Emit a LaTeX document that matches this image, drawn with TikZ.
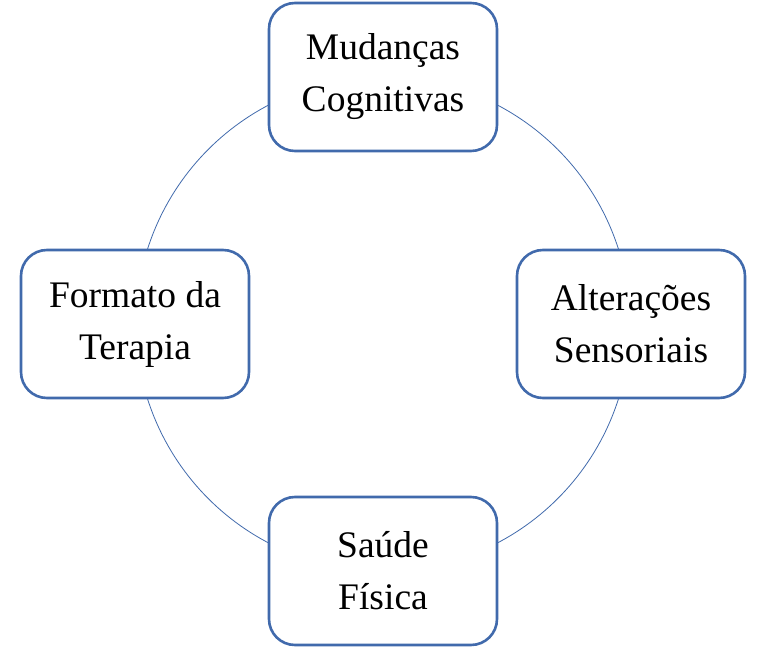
\documentclass[tikz,border=0pt]{standalone}
\usepackage{fontspec}
\setmainfont{Liberation Serif}
\usepackage{tikz}
\definecolor{ringblue}{RGB}{65,106,172}
\begin{document}
\begin{tikzpicture}[x=1pt,y=1pt,
  topic/.style={shape=rectangle,draw=ringblue,line width=2.6pt,fill=white,
    rounded corners=26pt,minimum width=228pt,minimum height=148pt,
    align=center,font=\fontsize{37.5}{52}\selectfont,inner sep=0pt}]
\useasboundingbox (0,0) rectangle (766,648);
% ring
\coordinate (C) at (383,324);
\draw[ringblue,line width=0.8pt] (C) circle (247);
% topics
\node[topic] (cog) at (383,571) {Mudanças\\Cognitivas};
\node[topic] (sen) at (631,324) {Alterações\\Sensoriais};
\node[topic] (sau) at (383,77) {Saúde\\Física};
\node[topic] (ter) at (135,324) {Formato da\\Terapia};
\end{tikzpicture}
\end{document}
